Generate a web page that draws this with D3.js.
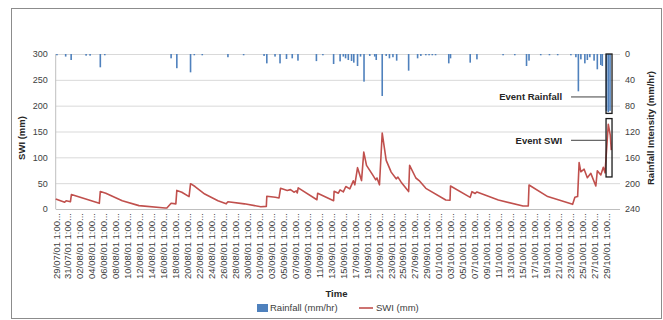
<!DOCTYPE html>
<html><head><meta charset="utf-8">
<script src="https://cdn.jsdelivr.net/npm/d3@7"></script>
<style>
body{margin:0;background:#fff}
svg{display:block;font-family:"Liberation Sans",Arial,sans-serif}
</style>
</head><body>
<svg id="c" width="663" height="320"></svg>
<script>
// ---------- DATA ----------
const xTickLabels = [
"29/07/01 1:00...","31/07/01 1:00...",
"02/08/01 1:00...","04/08/01 1:00...","06/08/01 1:00...","08/08/01 1:00...","10/08/01 1:00...",
"12/08/01 1:00...","14/08/01 1:00...","16/08/01 1:00...","18/08/01 1:00...","20/08/01 1:00...",
"22/08/01 1:00...","24/08/01 1:00...","26/08/01 1:00...","28/08/01 1:00...","30/08/01 1:00...",
"01/09/01 1:00...","03/09/01 1:00...","05/09/01 1:00...","07/09/01 1:00...","09/09/01 1:00...",
"11/09/01 1:00...","13/09/01 1:00...","15/09/01 1:00...","17/09/01 1:00...","19/09/01 1:00...",
"21/09/01 1:00...","23/09/01 1:00...","25/09/01 1:00...","27/09/01 1:00...","29/09/01 1:00...",
"01/10/01 1:00...","03/10/01 1:00...","05/10/01 1:00...","07/10/01 1:00...","09/10/01 1:00...",
"11/10/01 1:00...","13/10/01 1:00...","15/10/01 1:00...","17/10/01 1:00...","19/10/01 1:00...",
"21/10/01 1:00...","23/10/01 1:00...","25/10/01 1:00...","27/10/01 1:00...","29/10/01 1:00..."
];
const swiTicks = [0,50,100,150,200,250,300];
const rainTicks = [0,40,80,120,160,200,240];

// SWI (mm): time (2001 MM-DD HH) and value
const swiTimes = [
"07-29 01","07-30 13","07-30 19","07-31 12","07-31 16","08-05 08","08-05 12","08-06 10","08-09 04","08-11 23",
"08-16 08","08-16 15","08-17 08","08-18 03","08-18 07","08-19 03","08-20 08","08-20 14","08-21 08","08-22 23",
"08-25 04","08-26 13","08-26 20","08-29 14","09-01 08","09-02 06","09-02 08","09-03 18","09-04 09","09-04 15",
"09-05 18","09-06 07","09-06 21","09-07 06","09-07 10","09-07 14","09-10 17","09-10 20","09-13 12","09-13 14",
"09-14 07","09-14 14","09-15 03","09-15 13","09-16 05","09-16 19","09-17 01","09-17 12","09-18 04","09-18 13",
"09-19 00","09-20 02","09-20 13","09-20 18","09-21 04","09-21 15","09-22 07","09-23 03","09-23 23","09-24 06",
"09-24 19","09-26 01","09-26 05","09-27 06","09-27 19","09-28 22","10-02 06","10-02 23","10-03 01","10-06 08",
"10-06 15","10-07 04","10-07 11","10-11 01","10-15 04","10-16 01","10-16 04","10-19 07","10-23 11","10-23 20",
"10-24 07","10-24 13","10-24 20","10-25 09","10-25 22","10-26 12","10-27 08","10-27 14","10-28 04","10-28 14",
"10-28 21","10-29 10","10-29 18","10-29 22"
];
const swiValues = [
19.5,13,16,14,28,11,34,30.5,16,6.5,
2,2,11,10,36,32.5,24,49,43.5,29,
16,10,14,10,4.5,5,24.7,22.7,21.4,40,
35.7,37.5,32.5,35,31,41,18,30.5,16,34.4,
30.5,37,33,43.5,39,54.5,46.8,80,55,110,
84.4,65,56.5,60,46.8,147,94,71.4,58.4,61.7,
52,33.8,84.4,60,55,40,17.4,17,44.5,22.6,
33.5,30,33,17.4,5.8,6,46.5,24,9,22.6,
24,89.7,72,77,60.6,69,44.5,74,66,80.6,
70,164,143,114
];

// Rainfall (mm/hr): time and value
const rainTimes = [
"07-29 06","07-30 17","07-31 15","08-03 03","08-03 19","08-05 12","08-06 06","08-17 08","08-18 07","08-20 14",
"08-21 05","08-22 13","08-26 20","08-29 11","09-01 21","09-02 08","09-03 17","09-04 13","09-05 15","09-06 14",
"09-07 13","09-10 15","09-11 17","09-13 12","09-14 14","09-15 03","09-15 12","09-15 23","09-16 12","09-16 21",
"09-17 12","09-18 00","09-18 14","09-19 13","09-20 09","09-20 15","09-21 15","09-22 07","09-22 20","09-23 10",
"09-24 01","09-26 01","09-27 13","09-28 02","09-28 22","09-29 11","09-30 00","09-30 13","10-02 18","10-03 01",
"10-06 08","10-07 11","10-11 20","10-13 19","10-15 18","10-16 04","10-18 03","10-19 14","10-20 23","10-23 04",
"10-24 00","10-24 10","10-24 20","10-25 12","10-25 22","10-26 08","10-27 01","10-27 14","10-28 04","10-28 10",
"10-29 03","10-29 10","10-29 17"
];
const rainValues = [
2,4,9.3,2.6,2.6,20.6,2,6.7,22,28.4,
2,2,5,2,3,14.5,4,14.5,7.7,6.7,
10.3,11,2,15.5,11.4,4,6.7,9.3,10.8,13.4,
18.6,4,42.8,3,4,9.3,65,3,6.7,5,
10.3,25.8,6.7,3,2,2,2,2,14.5,6.7,
13.4,8.3,2,2,18.6,10.3,2,2,2,2,
5,57.8,8.3,14.5,9.3,5,10.3,23.7,17,18.6,
88,90,88
];

// event window and annotation anchors
const eventWindow = ["10-29 01","10-30 01"];
const eventRainRange = [0, 92];     // mm/hr
const eventSWIRange = [62, 175];    // mm
const eventRainLabel = "Event Rainfall", eventRainAnchor = 66.5;  // mm/hr
const eventSWILabel = "Event SWI", eventSWIAnchor = 133;           // mm

// ---------- CHART ----------
const parse = d3.timeParse("%Y-%m-%d %H");
const P = s => parse("2001-" + s);
const parseTick = d3.timeParse("%d/%m/%y %H:%M");
const tickDates = xTickLabels.map(s => parseTick(s.replace("...", "")));

const L = 55.7, R = 620, T = 54, B = 209;
const svg = d3.select("#c");

// outer border
svg.append("rect").attr("x", 11.5).attr("y", 8.5).attr("width", 650).attr("height", 310)
  .attr("fill", "none").attr("stroke", "#8c8c8c").attr("stroke-width", 1);

const x = d3.scaleTime().domain([P("07-29 01"), P("10-31 09")]).range([L, R]);
const yS = d3.scaleLinear().domain([0, 300]).range([B, T]);
const yR = d3.scaleLinear().domain([0, 240]).range([T, B]);

// gridlines
svg.append("g").attr("transform", `translate(${L},0)`)
  .call(d3.axisLeft(yS).tickValues(swiTicks).tickSize(-(R - L)).tickFormat(""))
  .call(g => g.select(".domain").remove())
  .call(g => g.selectAll("line").attr("stroke", "#d9d9d9").attr("stroke-width", 1)
          .attr("stroke", d => d === 0 ? "#bfbfbf" : "#d9d9d9"));
// left axis line
svg.append("line").attr("x1", L).attr("x2", L).attr("y1", T).attr("y2", B)
  .attr("stroke", "#bfbfbf");

// left axis labels
svg.append("g").attr("transform", `translate(${L},0)`)
  .call(d3.axisLeft(yS).tickValues(swiTicks).tickSize(0).tickPadding(8))
  .call(g => g.select(".domain").remove())
  .call(g => g.selectAll("text").attr("font-size", 9).attr("fill", "#404040")
          .attr("font-family", "Liberation Sans, Arial, sans-serif"));

// right axis labels
svg.append("g").attr("transform", `translate(${R},0)`)
  .call(d3.axisRight(yR).tickValues(rainTicks).tickSize(0).tickPadding(5))
  .call(g => g.select(".domain").remove())
  .call(g => g.selectAll("text").attr("font-size", 9).attr("fill", "#404040")
          .attr("font-family", "Liberation Sans, Arial, sans-serif"));

// x axis labels
svg.append("g").attr("transform", `translate(0,${B})`)
  .call(d3.axisBottom(x).tickValues(tickDates).tickSize(0).tickFormat((d, i) => xTickLabels[i]))
  .call(g => g.select(".domain").remove())
  .call(g => g.selectAll("text")
     .attr("font-size", 9.5).attr("fill", "#404040")
     .attr("font-family", "Liberation Sans, Arial, sans-serif")
     .attr("y", 0).attr("x", -4).attr("dy", "0.35em")
     .attr("transform", "rotate(-90)").style("text-anchor", "end"));

// rainfall bars
const rain = rainTimes.map((t, i) => ({t: P(t), v: rainValues[i]}));
svg.append("g").selectAll("rect").data(rain).join("rect")
  .attr("x", d => x(d.t) - 0.8).attr("width", 1.6)
  .attr("y", yR(0)).attr("height", d => yR(d.v) - yR(0))
  .attr("fill", "#4f81bd");

// SWI line
const swi = swiTimes.map((t, i) => ({t: P(t), v: swiValues[i]}));
svg.append("path").datum(swi)
  .attr("d", d3.line().x(d => x(d.t)).y(d => yS(d.v)))
  .attr("fill", "none").attr("stroke", "#c0504d").attr("stroke-width", 1.6)
  .attr("stroke-linejoin", "round");

// event boxes
const ex0 = x(P(eventWindow[0])), ex1 = x(P(eventWindow[1]));
svg.append("rect").attr("x", ex0).attr("width", ex1 - ex0)
  .attr("y", yR(eventRainRange[0])).attr("height", yR(eventRainRange[1]) - yR(eventRainRange[0]))
  .attr("fill", "none").attr("stroke", "#1a1a1a").attr("stroke-width", 1.3);
svg.append("rect").attr("x", ex0).attr("width", ex1 - ex0)
  .attr("y", yS(eventSWIRange[1])).attr("height", yS(eventSWIRange[0]) - yS(eventSWIRange[1]))
  .attr("fill", "none").attr("stroke", "#1a1a1a").attr("stroke-width", 1.3);

// annotations
const ann = [[eventRainLabel, yR(eventRainAnchor)], [eventSWILabel, yS(eventSWIAnchor)]];
ann.forEach(([lab, yy]) => {
  svg.append("line").attr("x1", ex0 - 35).attr("x2", ex0).attr("y1", yy).attr("y2", yy)
    .attr("stroke", "#404040").attr("stroke-width", 1);
  svg.append("text").attr("x", ex0 - 44).attr("y", yy).attr("dy", "0.35em")
    .attr("text-anchor", "end").attr("font-size", 9.5).attr("font-weight", "bold")
    .attr("fill", "#262626").text(lab);
});

// axis titles
svg.append("text").attr("transform", `translate(25,${138}) rotate(-90)`)
  .attr("text-anchor", "middle").attr("font-size", 9.5).attr("font-weight", "bold")
  .attr("fill", "#262626").text("SWI (mm)");
svg.append("text").attr("transform", `translate(654,${128}) rotate(-90)`)
  .attr("text-anchor", "middle").attr("font-size", 9.5).attr("font-weight", "bold")
  .attr("fill", "#262626").text("Rainfall Intensity (mm/hr)");
svg.append("text").attr("x", 336.5).attr("y", 297)
  .attr("text-anchor", "middle").attr("font-size", 9.5).attr("font-weight", "bold")
  .attr("fill", "#262626").text("Time");

// legend
const lg = svg.append("g").attr("font-size", 9.5).attr("fill", "#404040");
lg.append("rect").attr("x", 257).attr("y", 304).attr("width", 11).attr("height", 8).attr("fill", "#4f81bd");
lg.append("text").attr("x", 270).attr("y", 308).attr("dy", "0.35em").text("Rainfall (mm/hr)");
lg.append("line").attr("x1", 359).attr("x2", 373).attr("y1", 308).attr("y2", 308)
  .attr("stroke", "#c0504d").attr("stroke-width", 1.6);
lg.append("text").attr("x", 376).attr("y", 308).attr("dy", "0.35em").text("SWI (mm)");
</script>
</body></html>
